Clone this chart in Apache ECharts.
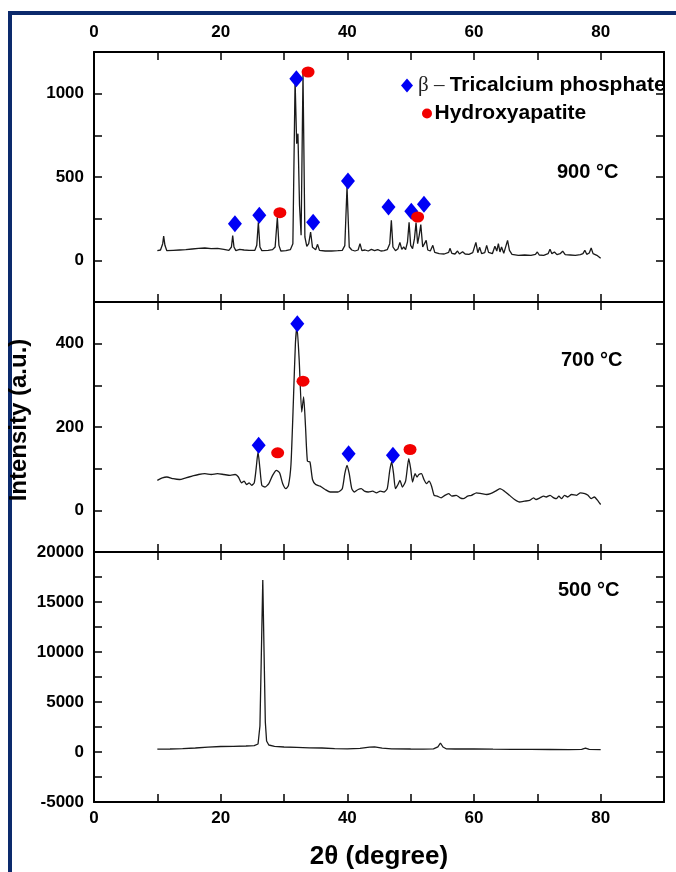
<!DOCTYPE html>
<html>
<head>
<meta charset="utf-8">
<script src="https://cdn.jsdelivr.net/npm/echarts@6/dist/echarts.min.js"></script>
<style>
  html, body { margin: 0; padding: 0; background: #fff; }
  #chart { width: 676px; height: 872px; }
</style>
</head>
<body>
<div id="chart"></div>
<script>
// XRD patterns: [2θ (degree), intensity (a.u.)]
const xrd900 = [
  [10.0,58],[10.5,62],[10.85,100],[11.0,145],[11.2,90],[11.5,58],[12.5,60],[13.5,62],[14.5,64],[15.5,68],
  [16.5,72],[17.5,74],[18.5,70],[19.5,72],[20.5,66],[21.3,60],[21.7,80],[21.9,148],[22.1,80],[22.4,58],
  [23.0,66],[23.3,74],[23.7,62],[24.5,60],[25.4,60],[25.7,90],[25.95,228],[26.2,80],[26.5,58],[27.5,60],
  [28.2,64],[28.6,80],[28.95,258],[29.2,90],[29.5,56],[30.3,58],[31.0,64],[31.4,100],[31.75,1080],[32.0,700],
  [32.2,760],[32.45,330],[32.7,150],[33.0,1120],[33.3,140],[33.6,84],[33.9,100],[34.2,170],[34.5,78],[35.0,64],
  [35.3,96],[35.6,60],[36.5,56],[37.5,56],[38.5,58],[39.2,60],[39.6,88],[39.95,440],[40.3,80],[40.7,62],
  [41.2,56],[41.7,62],[42.0,100],[42.3,58],[42.8,62],[43.3,56],[43.8,66],[44.3,58],[44.8,64],[45.3,56],
  [45.8,58],[46.3,64],[46.7,100],[46.95,240],[47.2,80],[47.6,58],[48.0,70],[48.3,108],[48.6,66],[48.9,80],
  [49.2,64],[49.5,110],[49.75,228],[50.0,90],[50.3,70],[50.6,130],[50.85,226],[51.1,100],[51.35,150],[51.6,214],
  [51.9,80],[52.2,70],[52.45,120],[52.7,62],[53.1,56],[53.5,90],[53.8,48],[54.5,40],[55.3,38],[56.0,48],
  [56.2,72],[56.5,42],[57.0,38],[57.4,56],[57.7,38],[58.2,52],[58.6,38],[59.2,36],[59.8,46],[60.3,108],
  [60.6,46],[60.9,78],[61.2,40],[61.7,46],[62.0,90],[62.3,48],[62.9,40],[63.3,84],[63.6,56],[63.85,100],
  [64.1,50],[64.35,80],[64.7,42],[65.0,46],[65.3,120],[65.6,60],[66.0,36],[67.0,30],[68.0,32],[69.0,30],
  [69.7,36],[70.0,50],[70.3,32],[71.0,30],[71.7,40],[72.0,66],[72.3,40],[72.7,50],[73.1,34],[73.6,40],
  [74.0,55],[74.4,34],[75.2,32],[76.0,30],[76.8,34],[77.2,40],[77.5,60],[77.8,36],[78.2,44],[78.5,74],
  [78.8,40],[79.4,30],[80.0,12]
];

const xrd700 = [
  [10.0,72],[10.8,78],[11.5,80],[12.5,76],[13.5,74],[14.5,78],[15.5,82],[16.5,86],[17.5,88],[18.5,86],
  [19.5,88],[20.5,86],[21.5,84],[22.3,86],[22.8,80],[23.3,66],[23.7,70],[24.1,62],[24.5,66],[24.9,60],
  [25.3,66],[25.6,100],[25.9,140],[26.2,100],[26.5,60],[27.0,56],[27.6,64],[28.2,84],[28.8,96],[29.3,90],
  [29.8,64],[30.3,52],[30.7,60],[31.1,110],[31.5,270],[31.8,400],[32.05,440],[32.4,360],[32.8,236],[33.1,272],
  [33.4,200],[33.7,118],[34.1,116],[34.5,74],[35.0,62],[35.7,58],[36.5,50],[37.3,44],[38.5,44],[39.2,52],
  [39.6,88],[39.95,108],[40.3,88],[40.7,52],[41.1,44],[41.7,50],[42.2,52],[42.7,46],[43.3,44],[44.0,46],
  [44.6,42],[45.2,46],[45.8,44],[46.3,52],[46.7,96],[47.0,116],[47.3,88],[47.6,52],[48.0,62],[48.3,72],
  [48.7,56],[49.2,70],[49.7,124],[50.0,100],[50.3,68],[50.7,88],[51.0,80],[51.3,86],[51.7,88],[52.1,74],
  [52.5,64],[52.9,70],[53.3,58],[53.7,36],[54.2,34],[54.8,30],[55.4,36],[56.0,40],[56.5,34],[57.2,36],
  [57.8,30],[58.3,28],[59.0,34],[59.6,36],[60.4,42],[61.2,40],[62.0,38],[62.6,40],[63.4,46],[64.1,52],
  [64.8,46],[65.6,36],[66.4,26],[67.2,20],[68.0,22],[68.8,24],[69.4,30],[69.8,26],[70.4,30],[71.0,34],
  [71.4,32],[72.0,36],[72.6,30],[73.0,28],[73.4,34],[73.8,28],[74.3,36],[74.8,32],[75.4,38],[76.2,36],
  [76.8,42],[77.5,40],[78.0,36],[78.5,28],[79.0,32],[79.6,22],[80.0,14]
];

const xrd500 = [
  [10,280],[12,300],[14,330],[16,400],[18,480],[20,550],[22,560],[24,600],[25.3,640],[25.9,800],
  [26.2,2600],[26.4,9000],[26.65,17200],[26.85,10000],[27.05,3000],[27.25,1100],[27.6,700],[28.5,560],[30,500],[32,460],
  [34,420],[36,400],[38,340],[40,320],[42,360],[43.5,480],[44.3,520],[45.5,380],[47,320],[50,300],
  [52,290],[53.6,320],[54.3,520],[54.7,900],[55.1,500],[55.6,320],[57,300],[60,310],[63,280],[66,270],
  [69,260],[72,250],[75,240],[77,260],[77.6,380],[78.2,260],[80,230]
];

// Phase markers above the indexed reflections
const tcp900 = [[22.25,220],[26.1,270],[31.95,1090],[34.6,228],[40.1,476],[46.5,320],[50.1,294],[52.1,336]];
const ha900  = [[29.35,286],[33.8,1130],[51.1,260]];
const tcp700 = [[26.0,156],[32.1,448],[40.2,136],[47.2,132]];
const ha700  = [[29.0,138],[33.0,310],[49.9,146]];

const xTicks = [0, 20, 40, 60, 80];
const panelLabels = ['900 °C', '700 °C', '500 °C'];
const TCP = 'β – Tricalcium phosphate';
const HA = 'Hydroxyapatite';

const FONT = '"Liberation Sans", Arial, sans-serif';
const gridTops = [52, 302, 552];
const panelH = 250;

const axisLine = { show: true, onZero: false, lineStyle: { color: '#000', width: 2 } };
const tick = { show: true, inside: true, length: 8, lineStyle: { color: '#000', width: 1.5 } };
const labelBase = { color: '#000', fontFamily: FONT, fontWeight: 'bold', fontSize: 17 };

const grids = gridTops.map(t => ({
  left: 94, right: 12, top: t, height: panelH, containLabel: false, outerBoundsMode: 'none'
}));

const xAxes = [];
gridTops.forEach((t, i) => {
  ['bottom', 'top'].forEach(pos => {
    const showLab = (pos === 'top' && i === 0) || (pos === 'bottom' && i === 2);
    const ax = {
      type: 'value', gridIndex: i, position: pos, min: 0, max: 90, interval: 10,
      axisLine, axisTick: tick, splitLine: { show: false },
      axisLabel: Object.assign({}, labelBase, {
        show: showLab, margin: pos === 'top' ? 11 : 8,
        formatter: v => (xTicks.indexOf(v) >= 0 ? String(v) : '')
      })
    };
    if (pos === 'bottom' && i === 2) {
      Object.assign(ax, {
        name: '2θ (degree)', nameLocation: 'middle', nameGap: 42,
        nameTextStyle: { color: '#000', fontFamily: FONT, fontWeight: 'bold', fontSize: 26 }
      });
    }
    xAxes.push(ax);
  });
});

const yCfg = [
  { min: -250, max: 1250, interval: 250, lab: v => (v >= 0 && v % 500 === 0 ? String(v) : '') },
  { min: -100, max: 500, interval: 100, lab: v => (v >= 0 && v <= 400 && v % 200 === 0 ? String(v) : '') },
  { min: -5000, max: 20000, interval: 2500, lab: v => (v % 5000 === 0 ? String(v) : '') }
];
const yAxes = [];
yCfg.forEach((c, i) => {
  ['left', 'right'].forEach(pos => {
    yAxes.push({
      type: 'value', gridIndex: i, position: pos, min: c.min, max: c.max, interval: c.interval,
      axisLine, axisTick: tick, splitLine: { show: false },
      axisLabel: Object.assign({}, labelBase, { show: pos === 'left', margin: 10, formatter: c.lab })
    });
  });
});

const lineSeries = (data, i, smooth) => ({
  type: 'line', xAxisIndex: i * 2, yAxisIndex: i * 2, data,
  showSymbol: false, symbol: 'none', silent: true, smooth: smooth || false,
  lineStyle: { color: '#1a1a1a', width: 1.3 }, z: 2
});
const tcpSeries = (data, i) => ({
  name: TCP, type: 'scatter', xAxisIndex: i * 2, yAxisIndex: i * 2, data,
  symbol: 'diamond', symbolSize: [14, 17], itemStyle: { color: '#0000f5', opacity: 1 }, z: 5
});
const haSeries = (data, i) => ({
  name: HA, type: 'scatter', xAxisIndex: i * 2, yAxisIndex: i * 2, data,
  symbol: 'circle', symbolSize: [13, 11], itemStyle: { color: '#f20000', opacity: 1 }, z: 6
});

const chart = echarts.init(document.getElementById('chart'), null, { renderer: 'canvas' });
chart.setOption({
  animation: false,
  backgroundColor: '#fff',
  grid: grids,
  xAxis: xAxes,
  yAxis: yAxes,
  legend: [
    {
      data: [{ name: TCP, icon: 'diamond' }], left: 396, top: 70, orient: 'vertical',
      itemWidth: 12, itemHeight: 14, itemGap: 4, selectedMode: false,
      formatter: () => '{g|β – }{b|Tricalcium phosphate}',
      textStyle: {
        rich: {
          g: { fontFamily: '"Liberation Serif", "Times New Roman", serif', fontSize: 21, color: '#222' },
          b: { fontFamily: FONT, fontWeight: 'bold', fontSize: 21, color: '#000' }
        }
      }
    },
    {
      data: [{ name: HA, icon: 'circle' }], left: 417, top: 98, orient: 'vertical',
      itemWidth: 11, itemHeight: 10, itemGap: 4, selectedMode: false,
      textStyle: { fontFamily: FONT, fontWeight: 'bold', fontSize: 21, color: '#000', padding: [0, 0, 0, -3] }
    }
  ],
  graphic: [
    {
      type: 'rect', silent: true, z: -10,
      shape: { x: 10, y: 13, width: 720, height: 900 },
      style: { fill: null, stroke: '#0c2a6c', lineWidth: 4 }
    },
    {
      type: 'text', x: 19, y: 420, rotation: Math.PI / 2, silent: true,
      style: {
        text: 'Intensity (a.u.)', fill: '#000', font: 'bold 24px ' + FONT,
        textAlign: 'center', textVerticalAlign: 'middle'
      }
    },
    ...panelLabels.map((t, i) => ({
      type: 'text', x: [557, 561, 558][i], y: [172, 360, 590][i], silent: true,
      style: { text: t, fill: '#000', font: 'bold 20px ' + FONT, textAlign: 'left', textVerticalAlign: 'middle' }
    }))
  ],
  series: [
    lineSeries(xrd900, 0),
    lineSeries(xrd700, 1, 0.2),
    lineSeries(xrd500, 2),
    tcpSeries(tcp900, 0),
    haSeries(ha900, 0),
    tcpSeries(tcp700, 1),
    haSeries(ha700, 1)
  ]
});
</script>
</body>
</html>
